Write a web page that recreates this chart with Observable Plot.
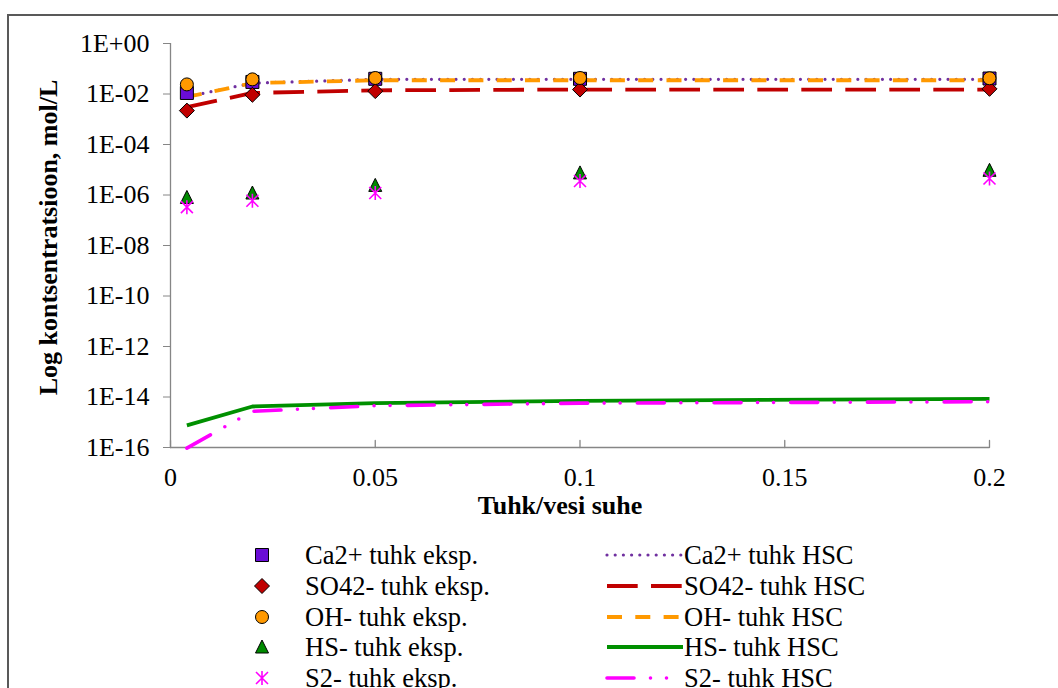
<!DOCTYPE html>
<html><head><meta charset="utf-8">
<script src="https://cdn.jsdelivr.net/npm/d3@7"></script>
<script src="https://cdn.jsdelivr.net/npm/@observablehq/plot@0.6"></script>
<style>
html,body{margin:0;padding:0;background:#fff;}
body{width:1058px;height:688px;overflow:hidden;position:relative;font-family:"Liberation Serif","Times New Roman",serif;}
#frame{position:absolute;left:7px;top:14px;width:1120px;height:720px;border-top:2px solid #595959;border-left:2px solid #595959;box-sizing:border-box;}
#chart{position:absolute;left:0;top:0;}
#legend{position:absolute;left:0;top:520px;width:1058px;height:168px;}
.lt{position:absolute;font-family:"Liberation Serif","Times New Roman",serif;font-size:26.5px;line-height:30px;height:30px;white-space:nowrap;color:#000;}
.lm{position:absolute;overflow:visible;}
</style></head><body>
<div id="frame"></div>
<div id="chart"></div>
<div id="legend"></div>
<script>
// ---- data ----
const ratio = [0.004, 0.02, 0.05, 0.1, 0.2];
const xTicks = [0, 0.05, 0.1, 0.15, 0.2];
const xTickLabels = ["0", "0.05", "0.1", "0.15", "0.2"];
const yTicks = [1, 1e-2, 1e-4, 1e-6, 1e-8, 1e-10, 1e-12, 1e-14, 1e-16];
const yTickLabels = ["1E+00", "1E-02", "1E-04", "1E-06", "1E-08", "1E-10", "1E-12", "1E-14", "1E-16"];
const xLabel = "Tuhk/vesi suhe";
const yLabel = "Log kontsentratsioon, mol/L";

const caExp  = [0.011, 0.030, 0.040, 0.040, 0.041];
const so4Exp = [0.0022, 0.0093, 0.013, 0.015, 0.016];
const ohExp  = [0.024, 0.038, 0.043, 0.043, 0.042];
const hsExp  = [8.0e-7, 1.2e-6, 2.4e-6, 7.5e-6, 9.5e-6];
const s2Exp  = [3.3e-7, 5.9e-7, 1.2e-6, 3.6e-6, 4.5e-6];

const caHsc  = [0.0078, 0.027, 0.038, 0.038, 0.038];
const so4Hsc = [0.003, 0.011, 0.014, 0.015, 0.015];
const ohHsc  = [0.0076, 0.027, 0.035, 0.035, 0.035];
const hsHsc  = [7.5e-16, 4.2e-15, 5.7e-15, 7.0e-15, 8.5e-15];
const s2Hsc  = [9.5e-17, 2.7e-15, 4.5e-15, 5.7e-15, 6.5e-15];

const expLabels = ["Ca2+ tuhk eksp.", "SO42- tuhk eksp.", "OH- tuhk eksp.", "HS- tuhk eksp.", "S2- tuhk eksp."];
const hscLabels = ["Ca2+ tuhk HSC", "SO42- tuhk HSC", "OH- tuhk HSC", "HS- tuhk HSC", "S2- tuhk HSC"];

// ---- styles ----
const serif = "'Liberation Serif','Times New Roman',serif";
const gray = "#868686";
const symSquare = {draw(c){ c.rect(-6.5, -6.5, 13, 13); }};
const symDiamond = {draw(c){ c.moveTo(0,-7.5); c.lineTo(7.5,0); c.lineTo(0,7.5); c.lineTo(-7.5,0); c.closePath(); }};
const symCircle = {draw(c){ c.moveTo(6.5,0); c.arc(0,0,6.5,0,2*Math.PI); c.closePath(); }};
const symTriangle = {draw(c){ c.moveTo(0,-7); c.lineTo(6.5,6); c.lineTo(-6.5,6); c.closePath(); }};
const symStar = {draw(c){ c.moveTo(0,-7); c.lineTo(0,7); c.moveTo(-6,-6); c.lineTo(6,6); c.moveTo(-6,6); c.lineTo(6,-6); }};

const expSeries = [caExp, so4Exp, ohExp, hsExp, s2Exp];
const hscSeries = [caHsc, so4Hsc, ohHsc, hsHsc, s2Hsc];
const expStyle = [
  {symbol: symSquare, fill: "#6A0DD6", stroke: "#000", strokeWidth: 1},
  {symbol: symDiamond, fill: "#C00000", stroke: "#000", strokeWidth: 1},
  {symbol: symCircle, fill: "#FF9900", stroke: "#000", strokeWidth: 1},
  {symbol: symTriangle, fill: "#008A00", stroke: "#000", strokeWidth: 1},
  {symbol: symStar, fill: "none", stroke: "#FF00FF", strokeWidth: 1.6}
];
const hscStyle = [
  {stroke: "#7030A0", strokeWidth: 3.2, strokeDasharray: "0,8.2", strokeLinecap: "round"},
  {stroke: "#C00000", strokeWidth: 3.8, strokeDasharray: "30.7,13.3", strokeLinecap: "butt"},
  {stroke: "#FF9900", strokeWidth: 3.8, strokeDasharray: "15,13.3", strokeLinecap: "butt"},
  {stroke: "#009000", strokeWidth: 3.8, strokeDasharray: null, strokeLinecap: "butt"},
  {stroke: "#FF00FF", strokeWidth: 3.6, strokeDasharray: "27,16.5,0,16,0,17.2", strokeLinecap: "round"}
];

const lineMarks = hscSeries.map((vals, i) => Plot.line(ratio, {
  x: d => d, y: (d, j) => vals[j], ...hscStyle[i], strokeLinejoin: "round"
}));
const dotMarks = expSeries.map((vals, i) => Plot.dot(ratio, {
  x: d => d, y: (d, j) => vals[j], r: 6, ...expStyle[i]
}));

const chart = Plot.plot({
  width: 1058,
  height: 520,
  marginLeft: 170,
  marginRight: 69,
  marginTop: 43,
  marginBottom: 73,
  style: {fontFamily: serif, fontSize: "26px", background: "transparent", overflow: "visible", color: "#000"},
  x: {domain: [0, 0.2]},
  y: {type: "log", domain: [1e-16, 1]},
  marks: [
    Plot.axisY({ticks: yTicks, tickFormat: d => yTickLabels[yTicks.indexOf(d)], tickSize: 7, tickPadding: 14, stroke: gray, fill: "#000", fontFamily: serif, fontSize: 26, label: null}),
    Plot.axisX({ticks: xTicks, tickFormat: d => xTickLabels[xTicks.indexOf(d)], tickSize: 0, tickPadding: 20, fill: "#000", fontFamily: serif, fontSize: 26, label: null}),
    Plot.vector(xTicks, {x: d => d, y: () => 1e-16, length: 7, r: 0, shape: "spike", anchor: "start", stroke: gray, fill: "none", strokeWidth: 1.3}),
    Plot.ruleY([1e-16], {stroke: gray, strokeWidth: 1.3}),
    Plot.ruleX([0], {stroke: gray, strokeWidth: 1.3}),
    ...lineMarks,
    ...dotMarks,
    Plot.text([xLabel], {text: d => d, frameAnchor: "bottom", textAnchor: "middle", dx: -20, dy: 66, fontWeight: "bold", fontSize: 26, fontFamily: serif, fill: "#000"}),
    Plot.text([yLabel], {text: d => d, frameAnchor: "left", textAnchor: "middle", rotate: -90, dx: -122, dy: -8, fontWeight: "bold", fontSize: 26, fontFamily: serif, fill: "#000"})
  ]
});
document.getElementById("chart").appendChild(chart);

// ---- legend (below the svg) ----
const legend = document.getElementById("legend");
const rowY = [35, 66, 97, 127, 158];
const ns = "http://www.w3.org/2000/svg";
expLabels.forEach((lab, i) => {
  const s = document.createElementNS(ns, "svg");
  s.setAttribute("class", "lm");
  s.setAttribute("width", 20); s.setAttribute("height", 20);
  s.style.left = (262 - 10) + "px"; s.style.top = (rowY[i] - 10) + "px";
  const p = document.createElementNS(ns, "path");
  const path = d3.path(); expStyle[i].symbol.draw(path);
  p.setAttribute("d", path.toString());
  p.setAttribute("transform", "translate(10,10)");
  p.setAttribute("fill", expStyle[i].fill);
  p.setAttribute("stroke", expStyle[i].stroke);
  p.setAttribute("stroke-width", expStyle[i].strokeWidth);
  s.appendChild(p); legend.appendChild(s);
  const t = document.createElement("div");
  t.className = "lt"; t.textContent = lab;
  t.style.left = "305px"; t.style.top = (rowY[i] - 15) + "px";
  legend.appendChild(t);
});
hscLabels.forEach((lab, i) => {
  const s = document.createElementNS(ns, "svg");
  s.setAttribute("class", "lm");
  s.setAttribute("width", 80); s.setAttribute("height", 10);
  s.style.left = "605px"; s.style.top = (rowY[i] - 5) + "px";
  const l = document.createElementNS(ns, "line");
  l.setAttribute("x1", 2); l.setAttribute("x2", 78); l.setAttribute("y1", 5); l.setAttribute("y2", 5);
  const st = hscStyle[i];
  l.setAttribute("stroke", st.stroke);
  l.setAttribute("stroke-width", st.strokeWidth);
  if (st.strokeDasharray) l.setAttribute("stroke-dasharray", st.strokeDasharray);
  l.setAttribute("stroke-linecap", st.strokeLinecap);
  s.appendChild(l); legend.appendChild(s);
  const t = document.createElement("div");
  t.className = "lt"; t.textContent = lab;
  t.style.left = "684px"; t.style.top = (rowY[i] - 15) + "px";
  legend.appendChild(t);
});
</script>
</body></html>
